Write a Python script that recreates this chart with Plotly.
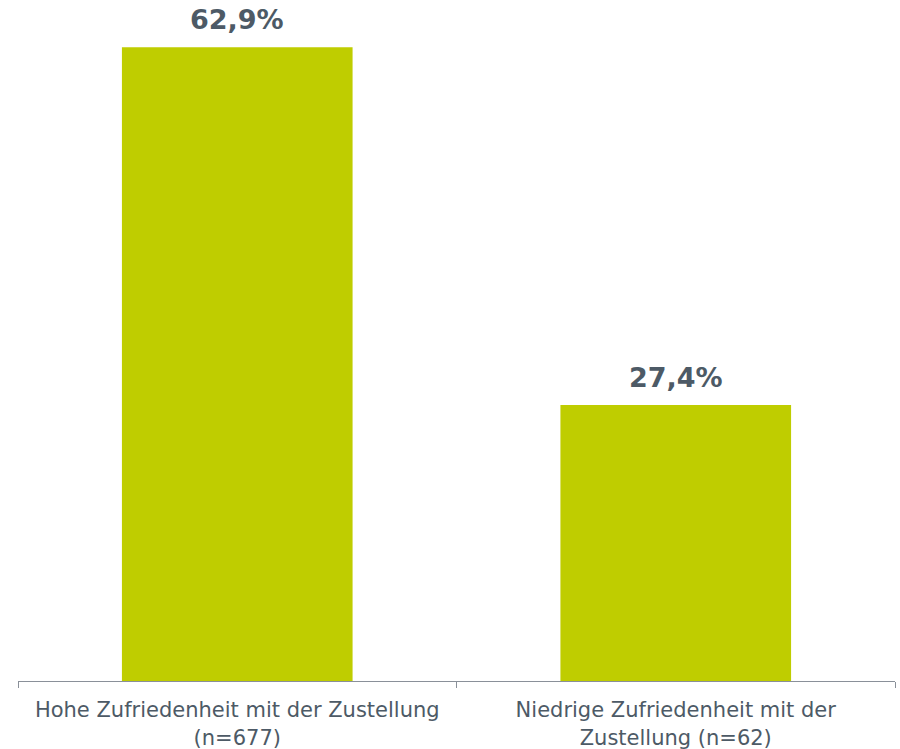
import plotly.graph_objects as go

categories = [
    "Hohe Zufriedenheit mit der Zustellung<br>(n=677)",
    "Niedrige Zufriedenheit mit der<br>Zustellung (n=62)",
]
values = [62.9, 27.4]
value_labels = [f"{v:.1f}%".replace(".", ",") for v in values]

BAR_COLOR = "#bfcd00"
TEXT_COLOR = "#4d5a66"
AXIS_COLOR = "#8a9099"

fig = go.Figure(
    go.Bar(
        x=categories,
        y=values,
        marker=dict(color=BAR_COLOR, line=dict(width=0)),
        hoverinfo="skip",
    )
)

for cat, v, lab in zip(categories, values, value_labels):
    fig.add_annotation(
        x=cat, y=v, text=f"<b>{lab}</b>", showarrow=False,
        yanchor="bottom", yshift=10,
        font=dict(family="DejaVu Sans", size=27, color=TEXT_COLOR),
    )

fig.update_layout(
    width=900, height=749,
    margin=dict(l=18, r=5, t=10, b=68, autoexpand=False),
    paper_bgcolor="white", plot_bgcolor="white",
    bargap=0.474,
    showlegend=False,
    font=dict(family="DejaVu Sans", color=TEXT_COLOR),
)
fig.update_xaxes(
    automargin=False,
    showline=True, linecolor=AXIS_COLOR, linewidth=1,
    ticks="outside", tickson="boundaries", ticklen=6, tickcolor=AXIS_COLOR,
    ticklabelstandoff=10,
    tickfont=dict(family="DejaVu Sans", size=21, color=TEXT_COLOR),
    showgrid=False,
)
fig.update_yaxes(visible=False, range=[0, 66.6], showgrid=False)

fig.write_html("out.html")
